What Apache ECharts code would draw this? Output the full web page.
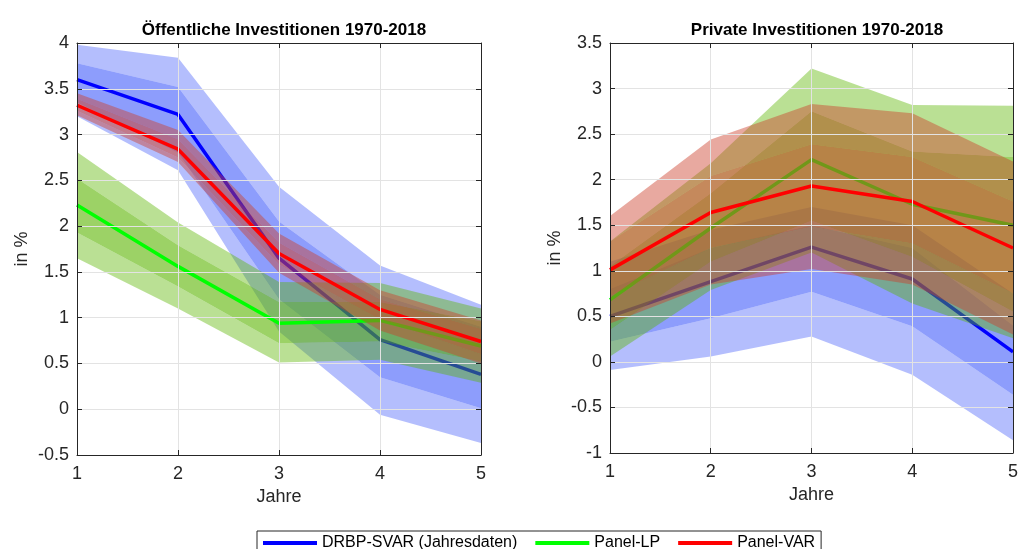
<!DOCTYPE html>
<html>
<head>
<meta charset="utf-8">
<script src="https://cdn.jsdelivr.net/npm/echarts@6/dist/echarts.min.js"></script>
<style>
  html, body { margin: 0; padding: 0; background: #fff; }
  #chart { width: 1021px; height: 549px; }
</style>
</head>
<body>
<div id="chart"></div>
<script>
// Jahre 1..5
var years = ['1', '2', '3', '4', '5'];

// Öffentliche Investitionen (linkes Panel)
var pubSvar = [3.60, 3.22, 1.65, 0.76, 0.38];
var pubSvarInLo = [3.35, 2.80, 1.20, 0.35, 0.01];
var pubSvarInHi = [3.78, 3.52, 2.05, 1.25, 0.90];
var pubSvarOutLo = [3.20, 2.61, 0.85, -0.06, -0.37];
var pubSvarOutHi = [3.98, 3.84, 2.43, 1.57, 1.14];

var pubLp = [2.23, 1.56, 0.94, 0.97, 0.69];
var pubLpInLo = [1.93, 1.34, 0.72, 0.74, 0.52];
var pubLpInHi = [2.52, 1.79, 1.17, 1.17, 0.96];
var pubLpOutLo = [1.65, 1.10, 0.51, 0.54, 0.29];
var pubLpOutHi = [2.81, 2.04, 1.39, 1.38, 1.10];

var pubVar = [3.32, 2.84, 1.70, 1.09, 0.74];
var pubVarInLo = [3.26, 2.75, 1.58, 0.98, 0.60];
var pubVarInHi = [3.39, 2.95, 1.82, 1.20, 0.88];
var pubVarOutLo = [3.21, 2.70, 1.49, 0.86, 0.50];
var pubVarOutHi = [3.45, 3.05, 1.92, 1.30, 0.97];

// Private Investitionen (rechtes Panel)
var privSvar = [0.50, 0.88, 1.26, 0.91, 0.11];
var privSvarInLo = [0.22, 0.48, 0.77, 0.39, -0.36];
var privSvarInHi = [0.80, 1.25, 1.50, 1.25, 0.40];
var privSvarOutLo = [-0.09, 0.06, 0.28, -0.14, -0.86];
var privSvarOutHi = [1.10, 1.45, 1.70, 1.50, 0.75];

var privLp = [0.68, 1.47, 2.22, 1.73, 1.50];
var privLpInLo = [0.35, 1.10, 1.55, 1.15, 0.55];
var privLpInHi = [1.05, 1.85, 2.75, 2.31, 2.25];
var privLpOutLo = [0.06, 0.79, 1.20, 0.64, 0.26];
var privLpOutHi = [1.32, 2.18, 3.22, 2.82, 2.81];

var privVar = [1.01, 1.64, 1.93, 1.76, 1.25];
var privVarInLo = [0.72, 1.25, 1.48, 1.30, 0.75];
var privVarInHi = [1.32, 2.04, 2.39, 2.25, 1.76];
var privVarOutLo = [0.42, 0.85, 1.02, 0.85, 0.30];
var privVarOutHi = [1.60, 2.44, 2.83, 2.73, 2.20];

var names = ['DRBP-SVAR (Jahresdaten)', 'Panel-LP', 'Panel-VAR'];
var lineColors = ['#0000ff', '#00ff00', '#ff0000'];
// äußeres / inneres Band
var outerColors = ['rgba(40,70,250,0.35)', 'rgba(90,180,0,0.42)', 'rgba(205,65,45,0.45)'];
var innerColors = ['rgba(40,70,250,0.53)', 'rgba(90,180,0,0.6)', 'rgba(205,65,45,0.55)'];

var font = 'Liberation Sans, Arial, sans-serif';
var axisCol = '#262626';
var zc = 2; // Zeichenreihenfolge wie in MATLAB

// Streifen: untere Grenze unsichtbar, dann Differenz darauf gestapelt
function strip(id, g, lo, hi, color) {
  var base = {
    type: 'line', xAxisIndex: g, yAxisIndex: g, stack: id, stackStrategy: 'all',
    symbol: 'none', silent: true, lineStyle: { width: 0, opacity: 0 }
  };
  return [
    Object.assign({}, base, { name: id + '_lo', data: lo.slice(), z: zc++ }),
    Object.assign({}, base, {
      name: id + '_hi', z: zc++,
      data: hi.map(function (v, i) { return v - lo[i]; }),
      areaStyle: { color: color, opacity: 1 }
    })
  ];
}

function line(name, g, vals, color) {
  return {
    type: 'line', name: name, xAxisIndex: g, yAxisIndex: g, data: vals, z: zc++,
    symbol: 'none', lineStyle: { width: 3.5, color: color }, itemStyle: { color: color }
  };
}

// d = [Linie, innen unten, innen oben, außen unten, außen oben]
function panel(g, sets) {
  var s = [];
  sets.forEach(function (d, k) {
    s = s.concat(strip('a' + g + k, g, d[3], d[1], outerColors[k]));
    s = s.concat(strip('b' + g + k, g, d[2], d[4], outerColors[k]));
    s = s.concat(strip('c' + g + k, g, d[1], d[2], innerColors[k]));
    s.push(line(names[k], g, d[0], lineColors[k]));
  });
  return s;
}

function xAx(g, top) {
  return {
    type: 'category', gridIndex: g, data: years, boundaryGap: false,
    position: top ? 'top' : 'bottom', z: 100,
    name: top ? '' : 'Jahre', nameLocation: 'middle', nameGap: 32,
    nameTextStyle: { fontFamily: font, fontSize: 18, color: axisCol },
    axisLine: { onZero: false, lineStyle: { color: axisCol } },
    axisTick: { inside: true, length: 5, lineStyle: { color: axisCol } },
    axisLabel: { show: !top, fontFamily: font, fontSize: 18, color: axisCol, margin: 10, interval: 0 },
    splitLine: { show: !top, interval: 0, lineStyle: { color: '#e3e3e3' } }
  };
}

function yAx(g, mn, mx, right) {
  return {
    type: 'value', gridIndex: g, min: mn, max: mx, interval: 0.5,
    position: right ? 'right' : 'left', z: 100,
    name: right ? '' : 'in %', nameLocation: 'middle', nameGap: 46,
    nameTextStyle: { fontFamily: font, fontSize: 18, color: axisCol },
    axisLine: { show: true, onZero: false, lineStyle: { color: axisCol } },
    axisTick: { show: true, inside: true, length: 5, lineStyle: { color: axisCol } },
    axisLabel: { show: !right, fontFamily: font, fontSize: 18, color: axisCol, margin: 8 },
    splitLine: { show: !right, lineStyle: { color: '#e3e3e3' } }
  };
}

var chart = echarts.init(document.getElementById('chart'), null, { renderer: 'canvas' });

var series = panel(0, [
  [pubSvar, pubSvarInLo, pubSvarInHi, pubSvarOutLo, pubSvarOutHi],
  [pubLp, pubLpInLo, pubLpInHi, pubLpOutLo, pubLpOutHi],
  [pubVar, pubVarInLo, pubVarInHi, pubVarOutLo, pubVarOutHi]
]).concat(panel(1, [
  [privSvar, privSvarInLo, privSvarInHi, privSvarOutLo, privSvarOutHi],
  [privLp, privLpInLo, privLpInHi, privLpOutLo, privLpOutHi],
  [privVar, privVarInLo, privVarInHi, privVarOutLo, privVarOutHi]
]));

var option = {
  animation: false,
  backgroundColor: '#fff',
  title: [
    { text: 'Öffentliche Investitionen 1970-2018', left: 279, top: 17, textAlign: 'center',
      textStyle: { fontFamily: font, fontSize: 17, fontWeight: 'bold', color: '#000' } },
    { text: 'Private Investitionen 1970-2018', left: 812, top: 17, textAlign: 'center',
      textStyle: { fontFamily: font, fontSize: 17, fontWeight: 'bold', color: '#000' } }
  ],
  grid: [
    { left: 77, top: 43, width: 404, height: 412 },
    { left: 610, top: 43, width: 405, height: 410 }
  ],
  xAxis: [xAx(0, false), xAx(1, false), xAx(0, true), xAx(1, true)],
  yAxis: [yAx(0, -0.5, 4, false), yAx(1, -1, 3.5, false), yAx(0, -0.5, 4, true), yAx(1, -1, 3.5, true)],
  legend: {
    data: names,
    left: 257, top: 531,
    icon: 'rect', itemWidth: 54, itemHeight: 4, itemGap: 18,
    borderColor: axisCol, borderWidth: 1, borderRadius: 0,
    padding: [4, 6, 10, 6],
    textStyle: { fontFamily: font, fontSize: 16, color: '#000' }
  },
  series: series
};

chart.setOption(option);
</script>
</body>
</html>
